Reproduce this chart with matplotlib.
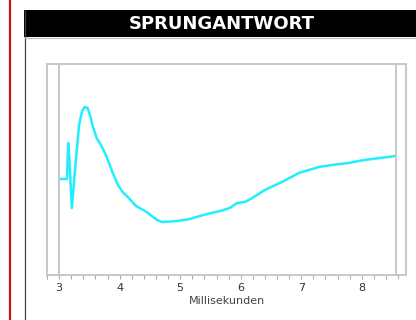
import matplotlib.pyplot as plt
from matplotlib.ticker import MultipleLocator, NullFormatter
from matplotlib.patches import Rectangle
from matplotlib.lines import Line2D

# Sprungantwort, y in relative Einheiten
ms = [3.00, 3.13, 3.15, 3.17, 3.21, 3.27, 3.33, 3.38, 3.42, 3.47, 3.51,
      3.56, 3.62, 3.70, 3.78, 3.88, 3.97, 4.05, 4.15, 4.27, 4.39, 4.47,
      4.55, 4.62, 4.70, 4.95, 5.16, 5.38, 5.66, 5.82, 5.94, 6.07, 6.19,
      6.40, 6.68, 6.96, 7.29, 7.50, 7.78, 8.04, 8.56]
amp = [96, 96, 132, 115, 67, 110, 150, 164, 168, 167, 160,
       148, 137, 129, 119, 103, 90, 83, 77, 69, 65, 62,
       58, 55, 53, 54, 56, 60, 64, 67, 72, 73, 77,
       85, 93, 102, 108, 110, 112, 115, 119]
xticks = [3, 4, 5, 6, 7, 8]

W, H = 416, 320
fig = plt.figure(figsize=(W/100, H/100), dpi=100)

# red margin line, grey panel edge, black title bar
fig.add_artist(Line2D([9.5/W, 9.5/W], [0, 1], color='#c4161c', lw=1.6))
fig.add_artist(Line2D([24.5/W, 24.5/W], [0, 1-10/H], color='#444444', lw=0.9))
fig.add_artist(Rectangle((24/W, 1-37/H), 1, 27/H, facecolor='black',
                         edgecolor='none', transform=fig.transFigure))
fig.add_artist(Line2D([25/W, 1], [1-37.5/H, 1-37.5/H], color='#bbbbbb', lw=0.8))
fig.text(222/W, 1-24/H, 'SPRUNGANTWORT', color='white', fontsize=13,
         fontweight='bold', ha='center', va='center', family='DejaVu Sans')

ax = fig.add_axes([47/W, 1-275/H, (406-47)/W, (275-64)/H])
ax.plot(ms, amp, color='#22eeff', lw=1.8, solid_joinstyle='round')
ax.set_xlim(2.80, 8.73)
ax.set_ylim(0, 211)
ax.axvline(2.99, color='#c8c8c8', lw=1.4)
ax.axvline(8.56, color='#c8c8c8', lw=1.4)

for s in ax.spines.values():
    s.set_color('#c8c8c8')
    s.set_linewidth(1.4)
ax.set_yticks([])
ax.set_xticks(xticks)
ax.xaxis.set_minor_locator(MultipleLocator(0.2))
ax.xaxis.set_minor_formatter(NullFormatter())
ax.tick_params(axis='x', which='both', direction='out', length=3,
               color='#aaaaaa', width=0.8, labelsize=8, labelcolor='#333333', pad=3)
ax.set_xlabel('Millisekunden', fontsize=8, color='#444444', labelpad=2)

fig.savefig('out.png', dpi=100)
